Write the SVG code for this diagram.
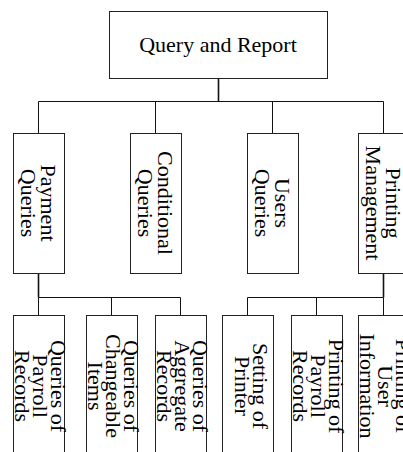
<svg xmlns="http://www.w3.org/2000/svg" width="403" height="452" viewBox="0 0 403 452">
<style>
.box{fill:#fff;stroke:#222;stroke-width:1}
.ln{fill:none;stroke:#111;stroke-width:1}
.tk{fill:none;stroke:#111;stroke-width:1.6}
text{font-family:"Liberation Serif","Times New Roman",serif;font-size:22px;fill:#000;text-anchor:middle}
</style>
<rect width="403" height="452" fill="#fff"/>
<g id="connectors">
<path class="tk" d="M218.5 78.5V101.5"/>
<path class="ln" d="M38.5 101.5H383.5M38.5 101.5V133.5M155.5 101.5V133.5M272.5 101.5V133.5M383.5 101.5V133.5"/>
<path class="tk" d="M38.5 273.5V297.5"/>
<path class="ln" d="M38.5 297.5H180.5M38.5 297.5V315.5M111.5 297.5V315.5M180.5 297.5V315.5"/>
<path class="tk" d="M383.5 273.5V297.5"/>
<path class="ln" d="M247.5 297.5H383.5M247.5 297.5V315.5M316.5 297.5V315.5M383.5 297.5V315.5"/>
</g>
<g id="query-report">
<rect class="box" x="109.5" y="11.5" width="218" height="67"/>
<text x="218" y="52">Query and Report</text>
</g>
<g id="payment-queries">
<rect class="box" x="13.5" y="133.5" width="51" height="140"/>
<text transform="translate(38.5,203) rotate(90)"><tspan x="0" y="-2.7">Payment</tspan><tspan x="0" y="17.3">Queries</tspan></text>
</g>
<g id="conditional-queries">
<rect class="box" x="130.5" y="133.5" width="51" height="140"/>
<text transform="translate(155.5,203) rotate(90)"><tspan x="0" y="-2.7">Conditional</tspan><tspan x="0" y="17.3">Queries</tspan></text>
</g>
<g id="users-queries">
<rect class="box" x="247.5" y="133.5" width="51" height="140"/>
<text transform="translate(272.5,203) rotate(90)"><tspan x="0" y="-2.7">Users</tspan><tspan x="0" y="17.3">Queries</tspan></text>
</g>
<g id="printing-management">
<rect class="box" x="358.5" y="133.5" width="51" height="140"/>
<text transform="translate(383.5,203) rotate(90)"><tspan x="0" y="-2.7">Printing</tspan><tspan x="0" y="17.3">Management</tspan></text>
</g>
<g id="queries-payroll-records">
<rect class="box" x="13.5" y="315.5" width="51" height="140"/>
<text transform="translate(38.5,386) rotate(90)"><tspan x="0" y="-12.7">Queries of</tspan><tspan x="0" y="5.3">Payroll</tspan><tspan x="0" y="23.3">Records</tspan></text>
</g>
<g id="queries-changeable-items">
<rect class="box" x="86.5" y="315.5" width="51" height="140"/>
<text transform="translate(111.5,386) rotate(90)"><tspan x="0" y="-12.7">Queries of</tspan><tspan x="0" y="5.3">Changeable</tspan><tspan x="0" y="23.3">Items</tspan></text>
</g>
<g id="queries-aggregate-records">
<rect class="box" x="155.5" y="315.5" width="51" height="140"/>
<text transform="translate(180.5,386) rotate(90)"><tspan x="0" y="-12.7">Queries of</tspan><tspan x="0" y="5.3">Aggregate</tspan><tspan x="0" y="23.3">Records</tspan></text>
</g>
<g id="setting-printer">
<rect class="box" x="222.5" y="315.5" width="51" height="140"/>
<text transform="translate(247.5,386) rotate(90)"><tspan x="0" y="-5">Setting of</tspan><tspan x="0" y="13">Printer</tspan></text>
</g>
<g id="printing-payroll-records">
<rect class="box" x="291.5" y="315.5" width="51" height="140"/>
<text transform="translate(316.5,386) rotate(90)"><tspan x="0" y="-12.7">Printing of</tspan><tspan x="0" y="5.3">Payroll</tspan><tspan x="0" y="23.3">Records</tspan></text>
</g>
<g id="printing-user-information">
<rect class="box" x="358.5" y="315.5" width="51" height="140"/>
<text transform="translate(383.5,386) rotate(90)"><tspan x="0" y="-12.5">Printing of</tspan><tspan x="0" y="5.5">User</tspan><tspan x="0" y="23.5">Information</tspan></text>
</g>
</svg>
